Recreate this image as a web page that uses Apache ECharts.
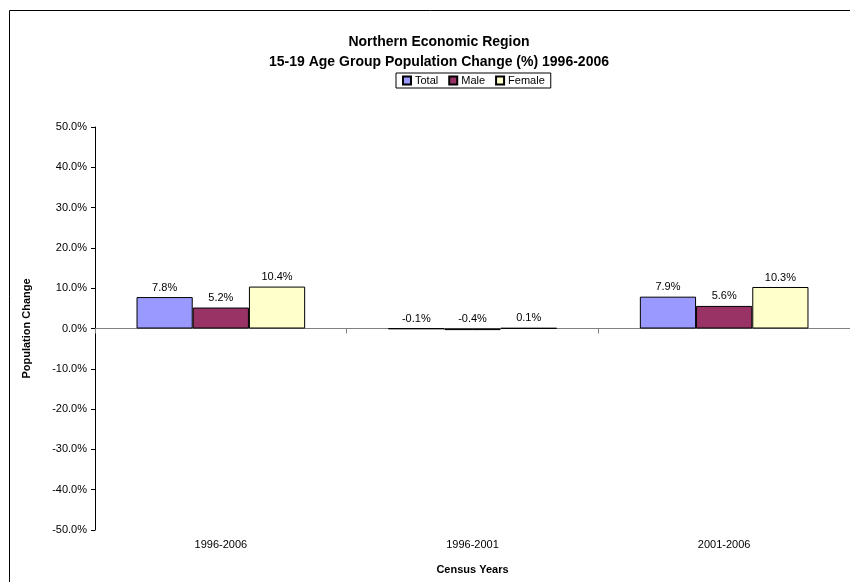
<!DOCTYPE html>
<html><head><meta charset="utf-8">
<script src="https://cdn.jsdelivr.net/npm/echarts@6/dist/echarts.min.js"></script>
<style>html,body{margin:0;padding:0;background:#fff}#c{width:850px;height:582px}</style>
</head><body><div id="c"></div>
<script>
const categories = ['1996-2006', '1996-2001', '2001-2006'];
const totalValues = [7.8, -0.1, 7.9];
const maleValues = [5.2, -0.4, 5.6];
const femaleValues = [10.4, 0.1, 10.3];
const seriesNames = ['Total', 'Male', 'Female'];
const yTicks = { min: -50, max: 50, interval: 10 };

const chart = echarts.init(document.getElementById('c'));
const font = 'Liberation Sans, Arial, sans-serif';
const colors = ['#9999FF', '#993366', '#FFFFCC'];
function mk(name, data, i) {
  return {
    name: name, type: 'bar', data: data, xAxisIndex: 0,
    barGap: '0%', barCategoryGap: '33%',
    itemStyle: { color: colors[i], borderColor: '#000', borderWidth: 1 },
    label: { show: true, position: 'top', distance: 4, color: '#000', fontFamily: font, fontSize: 11,
      formatter: p => p.value.toFixed(1) + '%' }
  };
}
chart.setOption({
  animation: false,
  graphic: [{ type: 'rect', shape: { x: 9.5, y: 10.5, width: 900, height: 700 },
    style: { fill: 'none', stroke: '#000', lineWidth: 1 }, silent: true }],
  title: {
    text: 'Northern Economic Region\n15-19 Age Group Population Change (%) 1996-2006',
    left: 434, top: 27, textAlign: 'center',
    textStyle: { fontFamily: font, fontSize: 14, fontWeight: 'bold', color: '#000', lineHeight: 20 }
  },
  legend: {
    data: seriesNames, left: 396, top: 73, icon: 'rect',
    itemWidth: 8, itemHeight: 8, itemGap: 10,
    borderColor: '#000', borderWidth: 1, padding: [2, 6],
    textStyle: { fontFamily: font, fontSize: 11, color: '#000', padding: [0, 0, 0, -1] }
  },
  grid: { left: 95, width: 759, top: 127, height: 403, containLabel: false },
  xAxis: [{
    type: 'category', data: categories, position: 'bottom',
    axisLine: { show: false, onZero: false }, axisTick: { show: false },
    axisLabel: { fontFamily: font, fontSize: 11, color: '#000', margin: 9 },
    name: 'Census Years', nameLocation: 'middle', nameGap: 34,
    nameTextStyle: { fontFamily: font, fontSize: 11, fontWeight: 'bold', color: '#000' }
  }, {
    type: 'category', data: categories, position: 'bottom',
    axisLine: { show: true, onZero: true, lineStyle: { color: '#808080', width: 1 } },
    axisTick: { show: true, length: 5, inside: false, lineStyle: { color: '#808080' } },
    axisLabel: { show: false }
  }],
  yAxis: {
    type: 'value', min: yTicks.min, max: yTicks.max, interval: yTicks.interval,
    axisLine: { show: true, lineStyle: { color: '#000' } },
    axisTick: { show: true, length: 4, lineStyle: { color: '#000' } },
    splitLine: { show: false },
    axisLabel: { fontFamily: font, fontSize: 11, color: '#000', margin: 8,
      formatter: v => v.toFixed(1) + '%' },
    name: 'Population Change', nameLocation: 'middle', nameGap: 63, nameRotate: 90,
    nameTextStyle: { fontFamily: font, fontSize: 11, fontWeight: 'bold', color: '#000' }
  },
  series: [mk(seriesNames[0], totalValues, 0), mk(seriesNames[1], maleValues, 1), mk(seriesNames[2], femaleValues, 2)]
});
</script></body></html>
